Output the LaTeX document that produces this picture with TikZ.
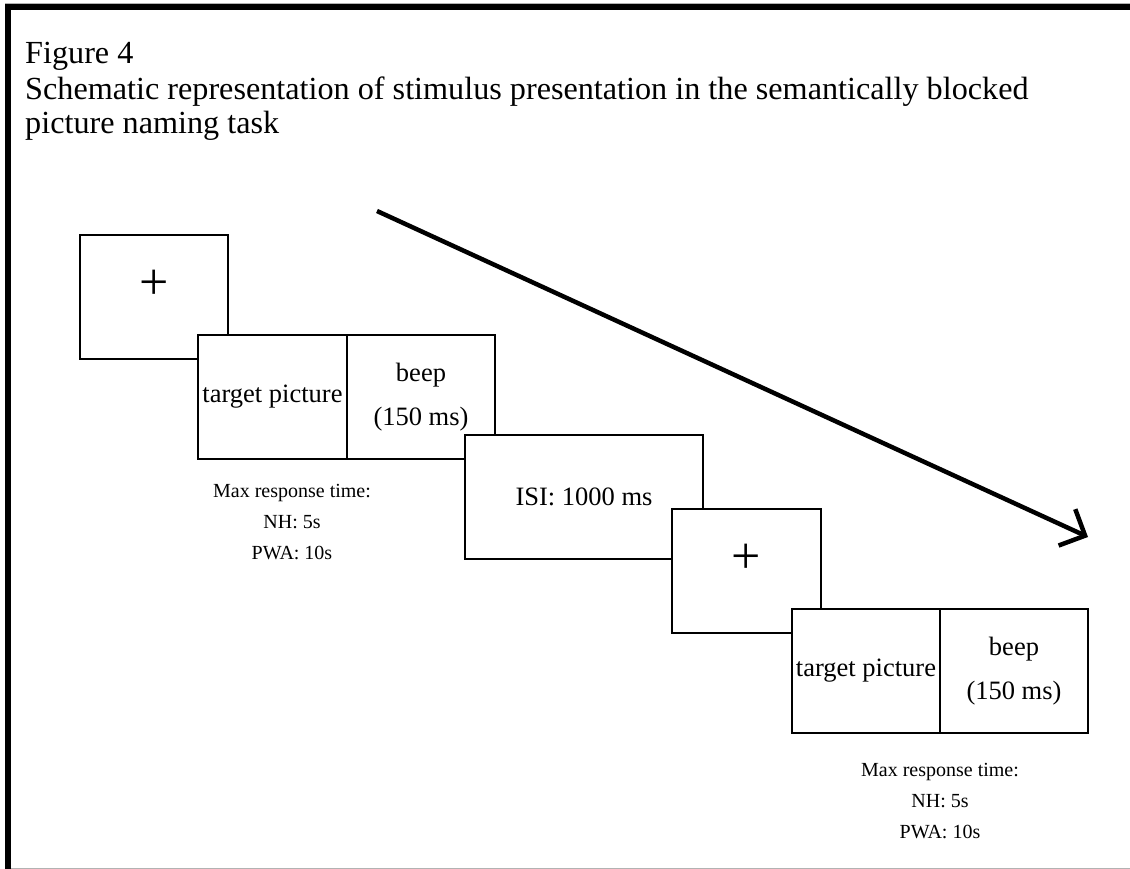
\documentclass[tikz,border=0pt]{standalone}
\usepackage{fontspec}
\setmainfont{Liberation Serif}
\usetikzlibrary{arrows.meta}
\begin{document}
\begin{tikzpicture}[x=1pt,y=-1pt,
  screen/.style={draw, fill=white, line width=2pt, rectangle, inner sep=0pt,
                 minimum height=124pt},
  boxtext/.style={font=\fontsize{26.5}{44}\selectfont, align=center},
  note/.style={font=\fontsize{20}{31}\selectfont, align=center, inner sep=0pt},
  cross/.style={font=\fontsize{52}{52}\selectfont, inner sep=0pt},
  title/.style={font=\fontsize{32.2}{32}\selectfont, anchor=base west, inner sep=0pt},
  timeline/.style={line width=4.5pt, -{Straight Barb[length=20pt, width=40pt]}}]
\useasboundingbox (0,0) rectangle (1130,869);

% outer frame
\draw[black!30, line width=1pt] (5,3.5) -- (1130,3.5);
\draw[line width=6pt] (5,7.5) -- (1130,7.5);
\draw[line width=6pt] (8,4.5) -- (8,869);
\draw[black!30, line width=1pt] (11,868) -- (1130,868);

% caption
\node[title] (fig) at (25,64) {Figure 4};
\node[title] (cap1) at (25,100) {Schematic representation of stimulus presentation in the semantically blocked};
\node[title] (cap2) at (25,134) {picture naming task};

% first trial
\node[screen, minimum width=148pt] (fix1) at (154,297) {};
\node[cross] (plus1) at (154,285) {+};
\node[screen, minimum width=149pt, boxtext] (pic1) at (272.5,397) {target picture};
\node[screen, minimum width=148pt, boxtext] (beep1) at (421,397) {beep\\(150 ms)};
\node[note] (resp1) at (292,522) {Max response time:\\NH: 5s\\PWA: 10s};

% inter-stimulus interval
\node[screen, minimum width=238pt, boxtext] (isi) at (584,497) {ISI: 1000 ms};

% second trial
\node[screen, minimum width=149pt] (fix2) at (746.5,571) {};
\node[cross] (plus2) at (746.5,559) {+};
\node[screen, minimum width=148pt, boxtext] (pic2) at (866,671) {target picture};
\node[screen, minimum width=148pt, boxtext] (beep2) at (1014,671) {beep\\(150 ms)};
\node[note] (resp2) at (940,801) {Max response time:\\NH: 5s\\PWA: 10s};

% time arrow
\coordinate (t0) at (377,211);
\coordinate (t1) at (1088,537);
\draw[timeline] (t0) -- (t1);
\end{tikzpicture}
\end{document}
